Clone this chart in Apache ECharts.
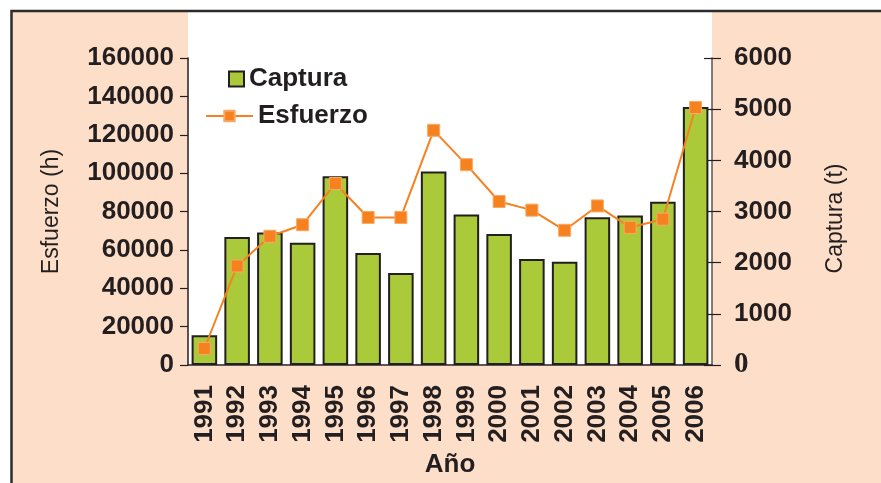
<!DOCTYPE html>
<html>
<head>
<meta charset="utf-8">
<script src="https://cdn.jsdelivr.net/npm/echarts@6/dist/echarts.min.js"></script>
<style>
  html, body { margin: 0; padding: 0; background: #ffffff; }
  #chart { width: 881px; height: 483px; }
</style>
</head>
<body>
<div id="chart"></div>
<script>
// Años de la serie
const years = ['1991','1992','1993','1994','1995','1996','1997','1998','1999','2000','2001','2002','2003','2004','2005','2006'];
// Captura anual (t) – barras, eje derecho
const captura = [580, 2500, 2590, 2390, 3690, 2190, 1800, 3780, 2940, 2560, 2070, 2020, 2890, 2920, 3190, 5040];
// Esfuerzo anual (h) – línea, eje izquierdo
const esfuerzo = [8600, 51600, 67100, 73100, 94600, 76900, 76900, 122300, 104400, 85200, 80700, 70200, 82900, 71700, 76000, 134200];
// Marcas de los ejes
const esfuerzoTicks = { min: 0, max: 160000, interval: 20000 };
const capturaTicks = { min: 0, max: 6000, interval: 1000 };

const INK = '#231F20';
const FONT = '"Liberation Sans", Arial, Helvetica, sans-serif';
const SERIF = '"Liberation Serif", "Times New Roman", serif';
const PEACH = '#FDDEC8';
const GREEN = '#AACA3A';
const ORANGE = '#F5821F';

const chart = echarts.init(document.getElementById('chart'), null, { renderer: 'canvas' });

const G = { left: 188, right: 169, top: 58, bottom: 115 };

chart.setOption({
  backgroundColor: '#ffffff',
  animation: false,
  textStyle: { fontFamily: FONT, color: INK },
  graphic: [
    { type: 'rect', z: -20, silent: true,
      shape: { x: 12, y: 12, width: 869, height: 471 },
      style: { fill: PEACH } },
    { type: 'rect', z: -19, silent: true,
      shape: { x: G.left, y: 12, width: 881 - G.left - G.right, height: 483 - G.bottom - 14 },
      style: { fill: '#ffffff' } },
    { type: 'polyline', z: 50, silent: true,
      shape: { points: [[11.5, 483], [11.5, 11], [881, 11]] },
      style: { stroke: '#2b2b2b', lineWidth: 2.5, fill: null } }
  ],
  grid: { left: G.left, right: G.right, top: G.top, bottom: G.bottom, containLabel: false },
  legend: [
    { data: [{ name: 'Captura', icon: 'rect' }], left: 228, top: 66, padding: 0,
      itemWidth: 15, itemHeight: 15,
      textStyle: { fontFamily: FONT, fontSize: 26, fontWeight: 'bold', color: INK } },
    { data: ['Esfuerzo'], left: 205, top: 103, padding: 0,
      itemWidth: 47, itemHeight: 13,
      textStyle: { fontFamily: FONT, fontSize: 26, fontWeight: 'bold', color: INK } }
  ],
  xAxis: {
    type: 'category',
    data: years,
    name: 'Año',
    nameLocation: 'middle',
    nameGap: 87,
    nameTextStyle: { fontFamily: FONT, fontSize: 26, fontWeight: 'bold', color: INK },
    axisLine: { lineStyle: { color: INK, width: 1.5 } },
    axisTick: { length: 8, lineStyle: { color: INK, width: 1.2 } },
    axisLabel: { interval: 0, rotate: 90, margin: 20, fontFamily: FONT, fontSize: 26, fontWeight: 'bold', color: INK }
  },
  yAxis: [
    {
      type: 'value', position: 'left',
      min: esfuerzoTicks.min, max: esfuerzoTicks.max, interval: esfuerzoTicks.interval,
      name: 'Esfuerzo (h)', nameLocation: 'middle', nameRotate: 90, nameGap: 125,
      nameTextStyle: { fontFamily: FONT, fontSize: 23, color: INK },
      axisLine: { show: true, lineStyle: { color: INK, width: 1.5 } },
      axisTick: { show: true, length: 8, lineStyle: { color: INK, width: 1.2 } },
      axisLabel: { margin: 14, fontFamily: FONT, fontSize: 26, fontWeight: 'bold', color: INK,
        formatter: v => String(v) },
      splitLine: { show: false }
    },
    {
      type: 'value', position: 'right',
      min: capturaTicks.min, max: capturaTicks.max, interval: capturaTicks.interval,
      name: 'Captura (t)', nameLocation: 'middle', nameRotate: 90, nameGap: 112,
      nameTextStyle: { fontFamily: FONT, fontSize: 23, color: INK, padding: [0, 14, 0, 0] },
      axisLine: { show: true, lineStyle: { color: '#555555', width: 1.5 } },
      axisTick: { show: true, length: 9, lineStyle: { color: INK, width: 1.2 } },
      axisLabel: {
        margin: 22, fontFamily: FONT, fontSize: 26, fontWeight: 'bold', color: INK,
        formatter: v => (v === 0 ? '{z|0}' : String(v)),
        rich: { z: { fontFamily: SERIF, fontSize: 29, fontWeight: 'bold', color: INK } }
      },
      splitLine: { show: false }
    },
    {
      // inner half of the crossing ticks on the right axis
      type: 'value', position: 'right',
      min: capturaTicks.min, max: capturaTicks.max, interval: capturaTicks.interval,
      axisLine: { show: false },
      axisTick: { show: true, inside: true, length: 8, lineStyle: { color: INK, width: 1.2 } },
      axisLabel: { show: false },
      splitLine: { show: false }
    }
  ],
  series: [
    {
      name: 'Captura', type: 'bar', yAxisIndex: 1,
      data: captura,
      barCategoryGap: '22%',
      itemStyle: { color: GREEN, borderColor: INK, borderWidth: 2 }
    },
    {
      name: 'Esfuerzo', type: 'line', yAxisIndex: 0,
      data: esfuerzo,
      symbol: 'rect', symbolSize: 12,
      itemStyle: { color: ORANGE, borderColor: '#F9A864', borderWidth: 1 },
      lineStyle: { color: ORANGE, width: 2 },
      z: 5
    }
  ]
});
</script>
</body>
</html>
